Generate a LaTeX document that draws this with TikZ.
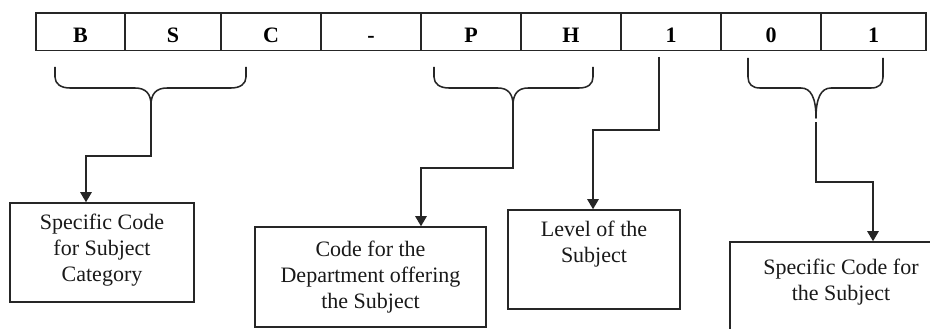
\documentclass[tikz,border=0pt]{standalone}
\usepackage{fontspec}
\setmainfont{Liberation Serif}
\usetikzlibrary{arrows.meta}
\begin{document}
\begin{tikzpicture}[x=0.75pt,y=-0.75pt,
  ln/.style={line width=1.15pt,draw=black!85},
  cell/.style={ln,rectangle,inner sep=0pt,minimum height=28.1pt,
    text height=16pt,text depth=0.2pt,font=\fontsize{16.5}{19}\selectfont\bfseries},
  box/.style={ln,rectangle,inner sep=0pt},
  lbl/.style={anchor=north,inner sep=0pt,align=center,
    font=\fontsize{16.5}{19.2}\selectfont,text=black!90},
  brace/.style={ln,line join=round},
  conn/.style={ln,-{Triangle[width=8.5pt,length=7.5pt]}}]
\useasboundingbox (0,0) rectangle (930,328);
\fill[white] (0,0) rectangle (930,328);
\clip (0,0) rectangle (930,328);

% top row of code letters
\node[cell,minimum width=66.75pt] (c1) at (80.5,31.75) {B};
\node[cell,minimum width=72pt]    (c2) at (173,31.75) {S};
\node[cell,minimum width=75pt]    (c3) at (271,31.75) {C};
\node[cell,minimum width=75pt]    (c4) at (371,31.75) {-};
\node[cell,minimum width=75pt]    (c5) at (471,31.75) {P};
\node[cell,minimum width=75pt]    (c6) at (571,31.75) {H};
\node[cell,minimum width=75pt]    (c7) at (671,31.75) {1};
\node[cell,minimum width=75pt]    (c8) at (771,31.75) {0};
\node[cell,minimum width=78.75pt] (c9) at (873.5,31.75) {1};

% boxes
\node[box,minimum width=138pt,minimum height=74.25pt] (b1) at (102,252.5) {};
\node[box,minimum width=173.25pt,minimum height=75pt] (b2) at (370.5,277) {};
\node[box,minimum width=129pt,minimum height=74.25pt] (b3) at (594,259.5) {};
\node[box,minimum width=166.5pt,minimum height=75pt] (b4) at (841,292) {};

\node[lbl] (t1) at ([yshift=-9pt]b1.north) {Specific Code\\for Subject\\Category};
\node[lbl] (t2) at ([yshift=-11.25pt]b2.north) {Code for the\\Department offering\\the Subject};
\node[lbl] (t3) at ([yshift=-9pt]b3.north) {Level of the\\Subject};
\node[lbl] (t4) at ([yshift=-13.5pt]b4.north) {Specific Code for\\the Subject};

% braces
\draw[brace] (55,67) -- (55,77) .. controls (55,84) and (61,88) .. (70,88) -- (135,88)
  .. controls (146,88) and (151,94) .. (151,105)
  .. controls (151,94) and (156,88) .. (167,88) -- (231,88)
  .. controls (240,88) and (246,84) .. (246,77) -- (246,67);
\draw[brace] (434,67) -- (434,77) .. controls (434,84) and (440,88) .. (449,88) -- (498,88)
  .. controls (508,88) and (513,94) .. (513,105)
  .. controls (513,94) and (518,88) .. (528,88) -- (579,88)
  .. controls (588,88) and (593,84) .. (593,77) -- (593,67);
\draw[brace] (748,58) -- (748,77) .. controls (748,84) and (752,88) .. (760,88) -- (801,88)
  .. controls (811,88) and (816,98) .. (816,118)
  .. controls (816,98) and (821,88) .. (831,88) -- (871,88)
  .. controls (879,88) and (883,84) .. (883,77) -- (883,58);

% connector points
\coordinate (p1) at (151,105);
\coordinate (k1) at (86,156);
\coordinate (p2) at (513,105);
\coordinate (k2) at (421,168);
\coordinate (p3) at (659,57);
\coordinate (k3) at (593,130);
\coordinate (p4) at (816,122);
\coordinate (k4) at (873,182);

\draw[conn] (p1) |- (k1) -- (k1 |- b1.north);
\draw[conn] (p2) |- (k2) -- (k2 |- b2.north);
\draw[conn] (p3) |- (k3) -- (k3 |- b3.north);
\draw[conn] (p4) |- (k4) -- (k4 |- b4.north);
\end{tikzpicture}
\end{document}
